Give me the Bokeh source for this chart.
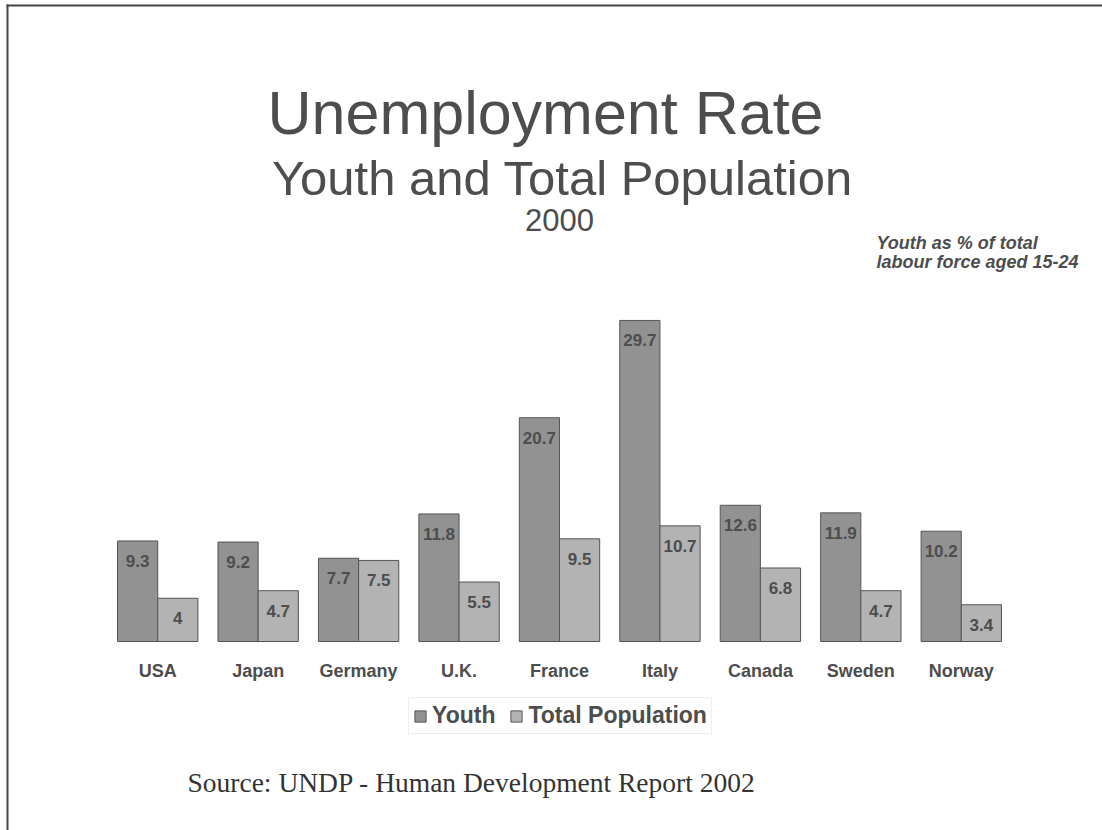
from bokeh.plotting import figure
from bokeh.models import ColumnDataSource, Range1d, Label, BoxAnnotation, Legend, LegendItem
from bokeh.transform import dodge
from bokeh.core.properties import value
from bokeh.embed import file_html
from bokeh.resources import INLINE

# ---- data ----
countries = ["USA", "Japan", "Germany", "U.K.", "France", "Italy", "Canada", "Sweden", "Norway"]
youth = [9.3, 9.2, 7.7, 11.8, 20.7, 29.7, 12.6, 11.9, 10.2]
total = [4, 4.7, 7.5, 5.5, 9.5, 10.7, 6.8, 4.7, 3.4]
series_names = ["Youth", "Total Population"]

title_text = "Unemployment Rate"
subtitle_text = "Youth and Total Population"
year_text = "2000"
note_lines = ["Youth as % of total", "labour force aged 15-24"]
source_text = "Source: UNDP - Human Development Report 2002"

def fmt(v):
    return "%g" % v

# category slot i spans [i, i+1] on the x scale, centre at i + 0.5
src = ColumnDataSource(dict(
    country=countries,
    xc=[i + 0.5 for i in range(len(countries))],
    zero=[0] * len(countries),
    youth=youth,
    total=total,
    youth_lbl=[fmt(v) for v in youth],
    total_lbl=[fmt(v) for v in total],
))

# ---- layout constants (canvas px) ----
W, H = 1102, 830
PLOT_L, PLOT_R, PLOT_B = 107, 1011, 641
PX_PER_X = (PLOT_R - PLOT_L) / len(countries)
PX_PER_UNIT = 10.81

TXT = "#4d4d4d"
YOUTH_C = "#929292"
TOTAL_C = "#b3b3b3"
EDGE_C = "#555555"
SANS = "Liberation Sans"

p = figure(
    width=W, height=H,
    x_range=Range1d(-PLOT_L / PX_PER_X, (W - PLOT_L) / PX_PER_X),
    y_range=Range1d(-(H - PLOT_B) / PX_PER_UNIT, PLOT_B / PX_PER_UNIT),
    output_backend="svg", toolbar_location=None,
    x_axis_location=None, y_axis_location=None,
    min_border=0,
)
p.xgrid.visible = False
p.ygrid.visible = False
p.outline_line_color = None
p.background_fill_color = "white"
p.border_fill_color = "white"

r1 = p.vbar(x=dodge("xc", -0.2), top="youth", width=0.4, source=src,
            fill_color=YOUTH_C, line_color=EDGE_C, line_width=1)
r2 = p.vbar(x=dodge("xc", 0.2), top="total", width=0.4, source=src,
            fill_color=TOTAL_C, line_color=EDGE_C, line_width=1)

for col, lbl, off in (("youth", "youth_lbl", -0.2), ("total", "total_lbl", 0.2)):
    p.text(x=dodge("xc", off), y=col, text=lbl, source=src,
           text_align="center", text_baseline="top", y_offset=14,
           text_font=value(SANS), text_font_style="bold", text_font_size="17px",
           text_color=TXT)

# category labels under the bars
p.text(x="xc", y="zero", text="country", source=src,
       text_align="center", text_baseline="middle", y_offset=29,
       text_font=value(SANS), text_font_style="bold", text_font_size="18px",
       text_color=TXT)

legend = Legend(
    items=[LegendItem(label=series_names[0], renderers=[r1]),
           LegendItem(label=series_names[1], renderers=[r2])],
    orientation="horizontal",
    location=(408, H - 734),
    border_line_color="#dddddd", border_line_width=1,
    background_fill_color="white", background_fill_alpha=1,
    label_text_font=SANS, label_text_font_style="bold", label_text_font_size="23px",
    label_text_color=TXT,
    glyph_width=14, glyph_height=14, label_standoff=5, spacing=14,
    padding=4, margin=0, label_height=20,
)
p.add_layout(legend)

def add_label(txt, cx, cy, size, style="normal", align="center", font=SANS, color=TXT):
    p.add_layout(Label(x=cx, y=H - cy, x_units="screen", y_units="screen", text=txt,
                       text_align=align, text_baseline="alphabetic",
                       text_font=font, text_font_style=style,
                       text_font_size=size, text_color=color))

add_label(title_text, 545, 112, "61px")
add_label(subtitle_text, 562, 177, "49px")
add_label(year_text, 559, 219, "31px")
add_label(note_lines[0], 876, 242, "18px", style="bold italic", align="left")
add_label(note_lines[1], 876, 261, "18px", style="bold italic", align="left")
add_label(source_text, 187, 782, "27.5px", font="Liberation Serif", align="left", color="#333333")

# slide border: top and left
def add_box(l, r, t, b):
    p.add_layout(BoxAnnotation(left=l, right=r, top=H - t, bottom=H - b,
                               left_units="screen", right_units="screen",
                               top_units="screen", bottom_units="screen",
                               fill_color="#444444", fill_alpha=1, line_color=None))

add_box(6, W, 4, 6)
add_box(6, 8, 4, H)

open("out.html", "w").write(file_html(p, INLINE))
